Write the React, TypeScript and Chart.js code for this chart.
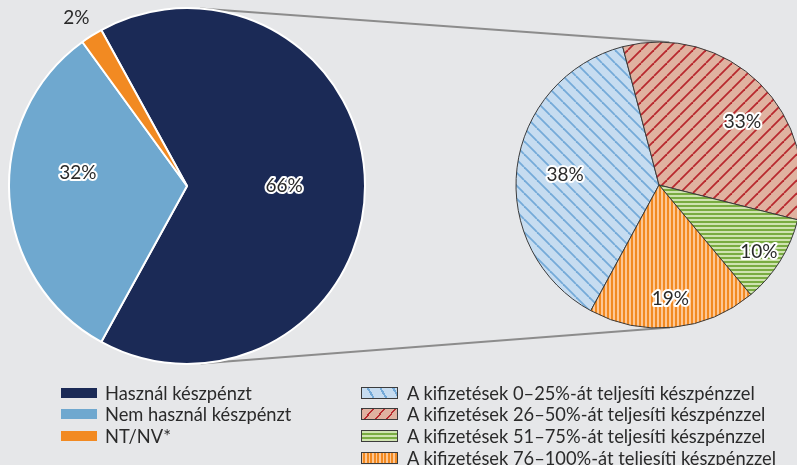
import React, { useEffect, useRef } from "react";
import { Chart, registerables } from "chart.js";
Chart.register(...registerables);

// ---- data ----
const mainLabels = ["Használ készpénzt", "Nem használ készpénzt", "NT/NV*"];
const mainValues = [66, 32, 2];
const subLabels = [
  "A kifizetések 0–25%-át teljesíti készpénzzel",
  "A kifizetések 26–50%-át teljesíti készpénzzel",
  "A kifizetések 51–75%-át teljesíti készpénzzel",
  "A kifizetések 76–100%-át teljesíti készpénzzel",
];
const subValues = [38, 33, 10, 19];

// ---- style ----
const BG = "#e6e7e9";
const TEXT = "#2a2a2a";
const FONT = "Lato, 'Open Sans', sans-serif";
const mainColors = ["#1b2a56", "#6fa8cf", "#f28a22"];
type Kind = "back" | "fwd" | "horiz" | "vert";
const subStyles: { bg: string; fg: string; kind: Kind }[] = [
  { bg: "#c6dcf0", fg: "#74aad8", kind: "back" },
  { bg: "#e0b2a0", fg: "#b8292e", kind: "fwd" },
  { bg: "#cfe3b0", fg: "#79ac41", kind: "horiz" },
  { bg: "#fdc795", fg: "#f28a21", kind: "vert" },
];
const LEFT = { left: 0, top: 0, w: 374, h: 372, r: 178, rotation: -28.8 };
const RIGHT = { left: 511, top: 37, w: 296, h: 296, r: 143, rotation: 208.5 };
const leftLabelFrac = [0.545, 0.617, 1.13];
const leftLabelShift = [0, 10.4, -1];
const leftLabelHalo = [true, true, false];
const rightLabelFrac = [0.66, 0.73, 0.84, 0.8];
const rightLabelShift = [-0.8, 8.4, 1.7, 0];

function makePattern(bg: string, fg: string, kind: Kind): CanvasPattern | string {
  const c = document.createElement("canvas");
  const s = kind === "horiz" || kind === "vert" ? 4 : 13;
  c.width = s;
  c.height = s;
  const ctx = c.getContext("2d");
  if (!ctx) return bg;
  ctx.fillStyle = bg;
  ctx.fillRect(0, 0, s, s);
  ctx.fillStyle = fg;
  ctx.strokeStyle = fg;
  if (kind === "horiz") ctx.fillRect(0, 0, s, 2);
  else if (kind === "vert") ctx.fillRect(0, 0, 2, s);
  else {
    ctx.lineWidth = 1.8;
    for (let k = -1; k <= 1; k++) {
      ctx.beginPath();
      if (kind === "back") {
        ctx.moveTo(k * s, 0);
        ctx.lineTo(k * s + s, s);
      } else {
        ctx.moveTo(k * s, s);
        ctx.lineTo(k * s + s, 0);
      }
      ctx.stroke();
    }
  }
  const p = ctx.createPattern(c, "repeat");
  return p || bg;
}

function labelPlugin(frac: number[], shift: number[], halo: boolean[]) {
  return {
    id: "sliceLabels",
    afterDatasetsDraw(chart: any) {
      const ctx = chart.ctx as CanvasRenderingContext2D;
      const meta = chart.getDatasetMeta(0);
      const values = chart.data.datasets[0].data as number[];
      meta.data.forEach((arc: any, i: number) => {
        const { x, y, startAngle, endAngle, outerRadius } = arc.getProps(
          ["x", "y", "startAngle", "endAngle", "outerRadius"],
          true
        );
        const mid = (startAngle + endAngle) / 2 + ((shift[i] || 0) * Math.PI) / 180;
        const r = outerRadius * frac[i];
        const px = x + r * Math.cos(mid);
        const py = y + r * Math.sin(mid);
        const text = values[i] + "%";
        ctx.save();
        ctx.font = `19px ${FONT}`;
        ctx.textAlign = "center";
        ctx.textBaseline = "middle";
        if (halo[i]) {
          ctx.strokeStyle = "#ffffff";
          ctx.lineWidth = 4;
          ctx.lineJoin = "round";
          ctx.strokeText(text, px, py);
        }
        ctx.fillStyle = TEXT;
        ctx.fillText(text, px, py);
        ctx.restore();
      });
    },
  };
}

const swatchCss: Record<Kind, string> = {
  back: "repeating-linear-gradient(60deg, #c6dcf0 0px, #c6dcf0 9px, #74aad8 9px, #74aad8 11px)",
  fwd: "repeating-linear-gradient(-50deg, #e0b2a0 0px, #e0b2a0 7px, #b8292e 7px, #b8292e 8.5px)",
  horiz: "repeating-linear-gradient(0deg, #cfe3b0 0px, #cfe3b0 2px, #79ac41 2px, #79ac41 4px)",
  vert: "repeating-linear-gradient(90deg, #fdc795 0px, #fdc795 1.5px, #f28a21 1.5px, #f28a21 3.5px)",
};

export default function App() {
  const bgRef = useRef<HTMLCanvasElement>(null);
  const leftRef = useRef<HTMLCanvasElement>(null);
  const rightRef = useRef<HTMLCanvasElement>(null);

  useEffect(() => {
    if (!leftRef.current || !rightRef.current || !bgRef.current) return;
    const left = new Chart(leftRef.current, {
      type: "pie",
      data: {
        labels: mainLabels,
        datasets: [
          {
            data: mainValues,
            backgroundColor: mainColors,
            borderColor: "#ffffff",
            borderWidth: 2,
          },
        ],
      },
      options: {
        responsive: false,
        animation: false,
        rotation: LEFT.rotation,
        radius: LEFT.r,
        layout: { padding: 0 },
        plugins: { legend: { display: false }, tooltip: { enabled: false } },
      } as any,
      plugins: [labelPlugin(leftLabelFrac, leftLabelShift, leftLabelHalo)],
    });
    const right = new Chart(rightRef.current, {
      type: "pie",
      data: {
        labels: subLabels,
        datasets: [
          {
            data: subValues,
            backgroundColor: subStyles.map((s) => makePattern(s.bg, s.fg, s.kind)) as any,
            borderColor: "#3a3a3a",
            borderWidth: 1,
          },
        ],
      },
      options: {
        responsive: false,
        animation: false,
        rotation: RIGHT.rotation,
        radius: RIGHT.r,
        layout: { padding: 0 },
        plugins: { legend: { display: false }, tooltip: { enabled: false } },
      } as any,
      plugins: [labelPlugin(rightLabelFrac, rightLabelShift, [true, true, true, true])],
    });

    // connector lines: external tangents between the two pies
    const a: any = left.getDatasetMeta(0).data[0];
    const b: any = right.getDatasetMeta(0).data[0];
    const c1 = { x: LEFT.left + a.x, y: LEFT.top + a.y, r: a.outerRadius };
    const c2 = { x: RIGHT.left + b.x, y: RIGHT.top + b.y, r: b.outerRadius };
    const dx = c2.x - c1.x;
    const dy = c2.y - c1.y;
    const D = Math.hypot(dx, dy);
    const ux = dx / D;
    const uy = dy / D;
    const nx = -uy;
    const ny = ux;
    const k = (c2.r - c1.r) / D;
    const h = Math.sqrt(1 - k * k);
    const ctx = bgRef.current.getContext("2d");
    if (ctx) {
      ctx.clearRect(0, 0, 797, 465);
      ctx.strokeStyle = "#8c8c8c";
      ctx.lineWidth = 2;
      for (const sgn of [1, -1]) {
        const mx = ux * k + sgn * nx * h;
        const my = uy * k + sgn * ny * h;
        ctx.beginPath();
        ctx.moveTo(c1.x - c1.r * mx, c1.y - c1.r * my);
        ctx.lineTo(c2.x - c2.r * mx, c2.y - c2.r * my);
        ctx.stroke();
      }
    }
    return () => {
      left.destroy();
      right.destroy();
    };
  }, []);

  const rowH = 21.6;
  const legendTop = 382;

  return (
    <div
      style={{
        position: "absolute",
        left: 0,
        top: 0,
        width: 797,
        height: 465,
        overflow: "hidden",
        background: BG,
        fontFamily: FONT,
        color: TEXT,
      }}
    >
      <canvas ref={bgRef} width={797} height={465} style={{ position: "absolute", left: 0, top: 0 }} />
      <canvas
        ref={leftRef}
        width={LEFT.w}
        height={LEFT.h}
        style={{ position: "absolute", left: LEFT.left, top: LEFT.top, width: LEFT.w, height: LEFT.h }}
      />
      <canvas
        ref={rightRef}
        width={RIGHT.w}
        height={RIGHT.h}
        style={{ position: "absolute", left: RIGHT.left, top: RIGHT.top, width: RIGHT.w, height: RIGHT.h }}
      />
      {mainLabels.map((lab, i) => (
        <div
          key={lab}
          style={{
            position: "absolute",
            left: 61,
            top: legendTop + i * rowH,
            height: rowH,
            display: "flex",
            alignItems: "center",
            fontSize: 18.3,
            whiteSpace: "nowrap",
          }}
        >
          <span style={{ display: "inline-block", width: 36, height: 10, background: mainColors[i], marginRight: 8 }} />
          <span>{lab}</span>
        </div>
      ))}
      {subLabels.map((lab, i) => (
        <div
          key={lab}
          style={{
            position: "absolute",
            left: 361,
            top: legendTop + i * rowH,
            height: rowH,
            display: "flex",
            alignItems: "center",
            fontSize: 18.3,
            whiteSpace: "nowrap",
          }}
        >
          <span
            style={{
              display: "inline-block",
              boxSizing: "border-box",
              width: 37,
              height: 12,
              background: swatchCss[subStyles[i].kind],
              border: "1px solid #3c3c3c",
              marginRight: 9,
            }}
          />
          <span>{lab}</span>
        </div>
      ))}
    </div>
  );
}
